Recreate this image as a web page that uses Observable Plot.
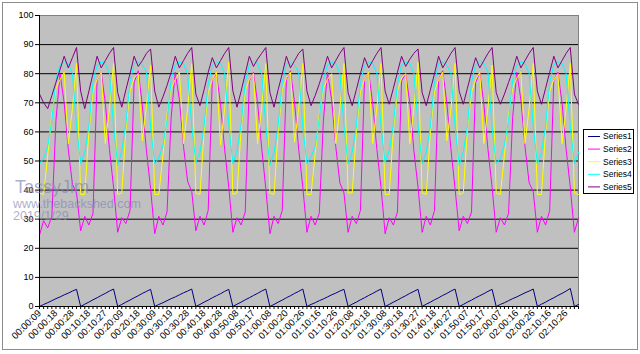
<!DOCTYPE html>
<html><head><meta charset="utf-8">
<script src="https://cdn.jsdelivr.net/npm/d3@7"></script>
<script src="https://cdn.jsdelivr.net/npm/@observablehq/plot@0.6"></script>
<style>html,body{margin:0;padding:0;background:#fff}</style>
</head><body><div id="chart"></div>
<script>
const seriesNames = ["Series1", "Series2", "Series3", "Series4", "Series5"];
const seriesColors = ["#000080", "#FF00FF", "#FFFF00", "#00FFFF", "#800080"];
const yTicks = [0, 10, 20, 30, 40, 50, 60, 70, 80, 90, 100];
const timeLabels = ["00:00:09","00:00:18","00:00:28","00:10:18","00:10:27","00:20:09","00:20:18","00:30:09","00:30:19","00:30:28","00:40:18","00:40:28","00:50:08","00:50:17","01:00:08","01:00:20","01:00:26","01:10:16","01:10:26","01:20:08","01:20:18","01:30:08","01:30:18","01:30:27","01:40:18","01:40:27","01:50:07","01:50:17","02:00:07","02:00:16","02:00:26","02:10:16","02:10:26"];
const labelEvery = 4;

const series1 = [
 0,0.7,1.3,2.0,2.7,3.3,4.0,4.6,5.3,5.9,
 0,0.8,1.5,2.3,3.0,3.8,4.5,5.3,6.0,
 0,0.7,1.5,2.2,3.0,3.7,4.5,5.2,5.9,
 0,0.7,1.3,2.0,2.7,3.3,4.0,4.7,5.3,6.0,
 0,0.7,1.5,2.2,3.0,3.7,4.4,5.2,5.9,
 0,0.8,1.5,2.3,3.0,3.8,4.5,5.3,6.0,
 0,0.7,1.5,2.2,3.0,3.7,4.5,5.2,6.0,
 0,0.7,1.3,2.0,2.6,3.3,4.0,4.6,5.3,5.9,
 0,0.8,1.5,2.3,3.0,3.8,4.5,5.3,6.0,
 0,0.7,1.5,2.2,3.0,3.7,4.5,5.2,5.9,
 0,0.8,1.5,2.3,3.0,3.8,4.5,5.3,6.0,
 0,0.7,1.5,2.2,3.0,3.7,4.4,5.2,5.9,
 0,0.7,1.3,2.0,2.7,3.3,4.0,4.7,5.3,6.0,
 0,0.8,1.5,2.3,3.0,3.8,4.5,5.3,6.2,
 0,0.7
];
const series2 = [
 24.5,29.5,27,31,64,80,70,54,42,39,
 26,31,28,32,78,80.5,70,54,41,
 25.5,30.5,28.5,33,77,81,69,53.5,40.5,
 25,31,28,32.5,65,80.5,71,55,43,39.5,
 26,31,28,33,78,80,69.5,54,41,
 25.5,30.5,28,32.5,77.5,80.5,70,54.5,40.5,
 25,31,28.5,33,78,81,70,54,41,
 25.5,31,28,32,64,80.5,71,55,42.5,39,
 25.5,31,28.5,33,78,80.5,69.5,54,41,
 25,30.5,28,32.5,77.5,80,70,53.5,41,
 25.5,31,28,33,78,81,70,54,40.5,
 26,31,28.5,32.5,77,80.5,69.5,54,41,
 25.5,30.5,28,32,65,80.5,71,55,42.5,39.5,
 25.5,31,28,33,78,80.5,70,54,41,
 25.5,30.5
];
const series3 = [
 39,38.5,52,66,75,78,80.5,56,68,83.5,
 38.5,38.5,60,74,78,80.5,56,68,83.5,
 38.5,39,61,74,78.5,80,57,69,83,
 38.5,38.5,52,66,75,78,80.5,56,68,83.5,
 39,38.5,60,73.5,78,80.5,55.5,68,84,
 38.5,39,61,74,78,80,56,68.5,83.5,
 39,38.5,60,74.5,78.5,80.5,56.5,68,83.5,
 38.5,38.5,52.5,66,75,78,80,56,68,83.5,
 39,39,60,74,78,80.5,56,68.5,83.5,
 38.5,38.5,60.5,74,78.5,80,56,68,84,
 39,38.5,60,74,78,80.5,57,68,83.5,
 38.5,39,61,73.5,78,80.5,56,68.5,83,
 39,38.5,52,66,75,78.5,80.5,56,68,83.5,
 38.5,38.5,60,74,78,80,56,68,83.5,
 39,38.5
];
const series4 = [
 49,51,55,64,78,83,84,83.5,80,62,
 49,53,62,77,83,84,83.5,80,62,
 48.5,53.5,63,77,83.5,84,83,80.5,61.5,
 49,51,55.5,64,78,83,84,83.5,80,62,
 49.5,53,62,76.5,83,84,83.5,80,62.5,
 49,53.5,62.5,77,83,84.5,83.5,80,62,
 48.5,53,62,77,83.5,84,83,80.5,61.5,
 49,51.5,55,64.5,78,83,84,83.5,80,62,
 49,53,62,77,83,84,83.5,80,62,
 49.5,53.5,62.5,76.5,83,84,83.5,80,62.5,
 49,53,62,77,83.5,84,83,80,62,
 48.5,53,62,77,83,84.5,83.5,80.5,61.5,
 49,51,55.5,64,78,83,84,83.5,80,62,
 49,53,62,77,83,84,83.5,80,62,
 49,53
];
const series5 = [
 73,70,68,72.5,77,81.5,86,82,85.5,89,
 74,68,74,80,86,82,84.5,87,89,
 73.5,68.5,74.5,80,86,82.5,84.5,87,88.5,
 74,68.5,72,76,80.5,86,82,84.5,87,89,
 73,69,74.5,80.5,85.5,82,84.5,87,89,
 74,68.5,74,80,86,82.5,85,87,89,
 73.5,68.5,74.5,80,86,82,84.5,87,88.5,
 74,69,72.5,76.5,81,86,82,84.5,87,89,
 73.5,69,74.5,80,85.5,82,84.5,87,89,
 74,69.5,75,80.5,86,82.5,85,87,88.5,
 73.5,69,74.5,80,86,82,84.5,87,89,
 74,69.5,75,80.5,85.5,82,84.5,87,89,
 73.5,69.5,73,77,81,86,82,84.5,87,89,
 74,69.5,75,80.5,86,82,84.5,87,89,
 73,69.5
];

const allSeries = [series1, series2, series3, series4, series5];
const rows = [];
allSeries.forEach((arr, k) => arr.forEach((v, i) => rows.push({i, v, name: seriesNames[k]})));
const categories = d3.range(series1.length);

const plot = Plot.plot({
  width: 640, height: 354,
  marginLeft: 39, marginRight: 62, marginTop: 15, marginBottom: 48,
  style: {fontFamily: "'Liberation Sans', Arial, sans-serif", fontSize: "9px", background: "white", color: "#000"},
  x: {type: "linear", domain: [0, categories.length - 1]},
  y: {domain: [0, 100]},
  color: {domain: seriesNames, range: seriesColors},
  marks: [
    Plot.frame({fill: "#C0C0C0", stroke: "#808080"}),
    Plot.ruleY(yTicks.filter(d => d > 0 && d < 100), {stroke: "#000", strokeWidth: 1}),
    Plot.line(rows, {x: "i", y: "v", z: "name", stroke: "name", strokeWidth: 1}),
    Plot.ruleY([0], {stroke: "#000"}),
    Plot.ruleX([0], {stroke: "#000"}),
    Plot.axisY({ticks: yTicks, tickSize: 4, tickPadding: 2, label: null, stroke: "#000", fill: "#000"}),
    Plot.axisX({ticks: categories, tickSize: 3, tickPadding: 2, tickRotate: -45, fontSize: 9.5,
      tickFormat: i => (i % labelEvery === 0 && timeLabels[i / labelEvery]) ? timeLabels[i / labelEvery] : "",
      label: null, stroke: "#000", fill: "#000"})
  ]
});
document.getElementById("chart").appendChild(plot);

const svg = d3.select(plot);
svg.append("rect").attr("x", 2.5).attr("y", 2.5).attr("width", 635).attr("height", 347)
  .attr("fill", "none").attr("stroke", "#8c8c8c");
const lg = svg.append("g").attr("font-family", "'Liberation Sans', Arial, sans-serif")
  .attr("font-size", "8.5px").attr("text-anchor", "start");
lg.append("rect").attr("x", 583.5).attr("y", 129.5).attr("width", 50).attr("height", 64)
  .attr("fill", "#fff").attr("stroke", "#000");
seriesNames.forEach((n, k) => {
  const y = 136.5 + k * 12.6;
  lg.append("line").attr("x1", 588).attr("x2", 600).attr("y1", y).attr("y2", y).attr("stroke", seriesColors[k]);
  lg.append("text").attr("x", 603).attr("y", y).attr("dy", "0.35em").attr("fill", "#000").attr("text-anchor", "start").text(n);
});
const wm = svg.append("g").attr("font-family", "'Liberation Sans', Arial, sans-serif")
  .attr("fill", "rgba(130,135,180,0.68)").attr("text-anchor", "start");
wm.append("text").attr("x", 15).attr("y", 193).attr("font-size", "18px").attr("text-anchor", "start").text("TassyJim");
wm.append("text").attr("x", 13).attr("y", 207.5).attr("font-size", "12.5px").attr("text-anchor", "start").text("www.thebackshed.com");
wm.append("text").attr("x", 13).attr("y", 220).attr("font-size", "12.5px").attr("text-anchor", "start").text("2019/1/29");
</script>
</body></html>
